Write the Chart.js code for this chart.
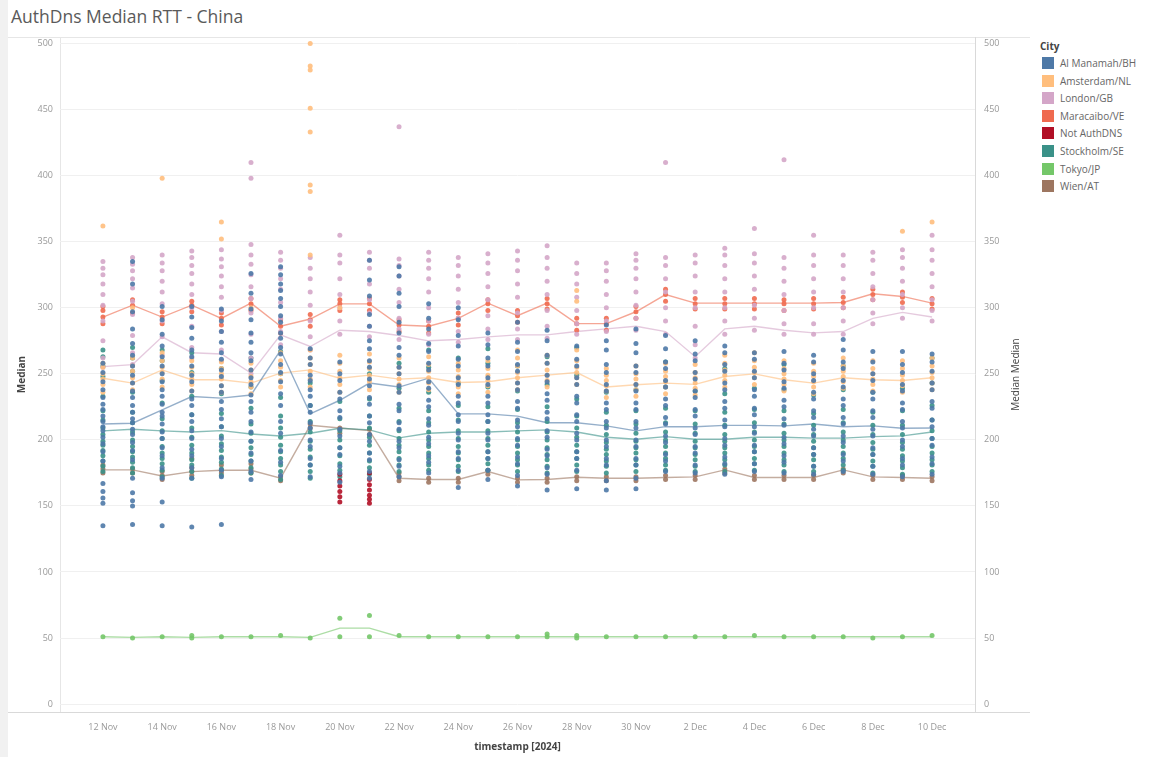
<!DOCTYPE html>
<html>
<head>
<meta charset="utf-8">
<title>AuthDns Median RTT - China</title>
<script src="https://cdn.jsdelivr.net/npm/chart.js@4.4.1/dist/chart.umd.min.js"></script>
<style>
  body { margin: 0; background: #fff; font-family: "Open Sans", Lato, sans-serif; }
  #franja { position: absolute; left: 0; top: 0; width: 8px; height: 757px; background: #f1f1f1; }
  #titulo { position: absolute; left: 11px; top: 4px; font-size: 17.5px; color: #5a5a5a; white-space: nowrap; }
  #grafico { position: absolute; left: 0; top: 0; }
  #leyenda { position: absolute; left: 1040px; top: 38px; font-size: 10px; color: #666; }
  #leyenda .cab { font-weight: bold; color: #444; height: 17px; line-height: 17px; }
  #leyenda .item { height: 17.6px; line-height: 17.6px; white-space: nowrap; }
  #leyenda .caja { display: inline-block; width: 12px; height: 12px; vertical-align: -2px; margin: 0 6px 0 2px; }
</style>
</head>
<body>
<div id="franja"></div>
<div id="titulo">AuthDns Median RTT - China</div>
<canvas id="grafico" width="1030" height="757"></canvas>
<div id="leyenda"></div>
<script>
// Dias del eje X (indice 0 = 12 Nov)
const dias = ['12 Nov','13 Nov','14 Nov','15 Nov','16 Nov','17 Nov','18 Nov','19 Nov','20 Nov','21 Nov',
  '22 Nov','23 Nov','24 Nov','25 Nov','26 Nov','27 Nov','28 Nov','29 Nov','30 Nov','1 Dec',
  '2 Dec','3 Dec','4 Dec','5 Dec','6 Dec','7 Dec','8 Dec','9 Dec','10 Dec'];
const tickPos = [0, 2, 4, 6, 8, 10, 12, 14, 16, 18, 20, 22, 24, 26, 28];
const tickLabels = ['12 Nov','14 Nov','16 Nov','18 Nov','20 Nov','22 Nov','24 Nov','26 Nov','28 Nov','30 Nov',
  '2 Dec','4 Dec','6 Dec','8 Dec','10 Dec'];
const yTicks = [0, 50, 100, 150, 200, 250, 300, 350, 400, 450, 500];

const ciudades = ['Al Manamah/BH','Amsterdam/NL','London/GB','Maracaibo/VE','Not AuthDNS','Stockholm/SE','Tokyo/JP','Wien/AT'];

// Puntos (mediana por medicion) por ciudad y por dia
const manamahPts = [
  [135,152,156,161,167,184,191,197,202,207,210,214,218,223,227,232,238,244,251,258],
  [136,150,154,160,171,185,192,198,204,208,213,216,221,226,232,237,243,249,256,264,273,284,297,318,335],
  [135,153,171,179,188,194,201,206,212,218,221,227,233,238,244,250,256,263,271,280,291,301],
  [134,171,179,188,193,201,207,214,219,226,231,237,244,249,256,263,268,277,285,293,301],
  [136,172,177,186,195,201,210,216,223,229,236,241,248,253,261,266,274,282,290,299],
  [170,176,184,190,199,206,214,221,229,234,242,247,253,260,266,274,281,291,299,311,326],
  [173,183,192,205,214,226,235,244,251,257,265,270,277,281,289,294,301,307,313,318,325,331],
  [172,181,186,195,200,209,213,221,226,233,238,245,249,257,262,269],
  [168,175,180,189,194,203,208,217,222,231,236,245,250,259],
  [171,176,185,190,199,204,213,218,227,232,241,246,255,260,269,275,286,295,309,321,336],
  [172,180,185,194,199,208,213,222,227,236,241,250,255,264,270,281,289,301,311,324,331],
  [175,183,188,197,202,211,216,225,230,239,244,253,258,267,273,284,292,303],
  [164,177,186,191,200,205,214,219,228,233,242,247,256,261,271,279,291,300],
  [170,177,186,191,200,205,214,219,228,233,242,247,256,262,272,281],
  [165,173,182,187,196,201,210,215,224,229,238,243,252,257,267,274,289],
  [162,174,179,188,193,202,207,216,221,230,235,244,249,258,264,275,283],
  [163,177,186,191,200,205,214,219,228,233,242,247,256,261,271],
  [162,169,181,186,195,200,209,214,223,228,237,242,251,257,268,275,287],
  [163,171,181,186,195,200,209,214,223,228,237,242,251,256,266,273,284],
  [176,184,189,198,203,212,217,226,231,240,245,254,259,269,279],
  [175,181,190,195,204,209,218,223,232,237,246,251,260,265,275],
  [174,182,187,196,201,210,215,224,229,238,243,252,257,266,271],
  [176,182,191,196,205,210,219,224,233,238,247,252,261,266],
  [175,183,188,197,202,211,216,225,230,239,244,253,258,267],
  [174,180,189,194,203,208,217,222,231,236,245,250,259,264],
  [176,184,189,198,203,212,217,226,231,240,245,254,259,268,276],
  [174,180,189,194,203,208,217,222,231,236,245,250,259,267],
  [172,181,186,195,200,209,214,223,228,237,242,251,257,267],
  [174,182,187,196,201,210,215,224,229,238,243,252,259,265]
];
const amsterdamPts = [
  [236,242,246,250,255,258,362], [238,243,247,252,256,262,300], [240,246,251,255,260,266,398],
  [237,242,246,250,255,260], [236,241,246,250,254,259,352,365], [235,240,244,248,253,258,300],
  [240,245,250,255,260,266], [240,246,252,257,262,268,340,388,393,433,451,480,483,500],
  [236,242,247,252,258,264,300], [238,244,249,254,259,265], [236,242,246,250,255,262],
  [238,243,247,252,257,263], [235,240,244,248,253,258], [236,241,245,249,254,260],
  [238,243,247,251,256,262,268], [240,245,249,253,258,264], [242,247,251,255,260,268,305,313],
  [232,237,241,245,249,254], [233,238,242,246,250,256], [235,240,244,248,252,258],
  [234,239,243,247,251,257], [240,245,249,253,258,264], [242,247,251,255,260,266],
  [237,242,246,250,254,260], [235,240,244,248,252,258], [239,244,248,252,256,262],
  [237,242,246,250,254,260], [236,241,245,249,254,260,358], [238,243,247,251,256,262,365]
];
const londonPts = [
  [255,262,275,290,302,310,318,325,330,335], [257,266,279,295,305,315,322,328,333,338],
  [264,278,290,303,312,320,328,334,340], [262,270,286,300,310,318,326,332,338,343],
  [260,268,282,298,308,316,324,331,337,344], [250,262,280,296,307,316,325,333,340,348,398,410],
  [272,282,292,304,314,322,330,336,342], [268,278,290,302,312,322,330,338],
  [280,290,300,310,322,334,340,355], [278,286,296,306,318,330,336,342],
  [276,284,292,304,314,324,332,337,437], [272,280,290,300,312,322,330,336,342],
  [274,282,292,304,314,324,332,338], [276,284,294,306,316,326,334,341],
  [276,284,296,308,318,328,336,343], [277,286,298,310,320,330,338,347],
  [280,288,298,308,318,326,334], [282,290,300,310,320,328,334],
  [283,292,302,312,322,330,336,341], [280,290,300,312,322,332,338,410],
  [262,272,286,300,312,324,334,340], [280,290,300,312,322,332,340,345],
  [283,292,302,314,324,334,341,360], [280,288,298,310,320,330,338,412],
  [280,288,300,312,322,332,340,355], [280,290,300,312,322,332,340],
  [288,296,306,316,326,336,342], [292,300,310,320,330,338,344],
  [290,298,306,316,326,336,344,355]
];
const maracaiboPts = [
  [288,293,298,301], [296,302,306], [288,293,297], [297,302,305], [287,292,296], [298,303,307],
  [281,286,291], [286,291,295], [298,303,306], [298,303,307], [282,287,291], [281,286,290],
  [287,292,296], [298,303,306], [289,294,298], [299,303,307], [283,288,292], [283,288,292],
  [292,297,301], [305,310,314], [299,303,307], [299,303,307], [299,303,307], [298,303,306],
  [299,303,307], [300,304,308], [306,310,314], [304,308,312], [299,303,307]
];
const notAuthPts = [
  [], [], [], [], [], [], [], [], [153,157,161,165,169,174], [152,155,158,162,166,170,175],
  [], [], [], [], [], [], [], [], [], [], [], [], [], [], [], [], [], [], []
];
const stockholmPts = [
  [176,180,184,188,192,196,199,204,209,215,222,233,248,256,263,268],
  [175,179,183,187,191,195,200,206,213,221,236,252,262,270],
  [172,177,182,186,190,195,201,207,216,228,245,260,268],
  [171,176,181,185,190,196,202,209,219,233,251,266],
  [173,178,183,187,192,197,203,210,220,235,254],
  [175,179,184,189,194,199,205,212,224,240,262],
  [170,176,181,186,191,196,202,209,218,232,250,267],
  [171,176,181,187,193,199,206,214,226,243],
  [172,177,182,188,194,200,207,216,229],
  [174,179,184,190,196,202,209,218,231,250],
  [176,181,186,191,196,201,207,214,224,239,258],
  [177,181,186,190,195,200,206,213,222,236,255,268],
  [176,180,185,190,195,201,207,215,226,243,262],
  [177,182,186,191,196,201,207,214,225,240,258,269],
  [176,181,185,190,195,200,206,213,223,237,256],
  [175,180,185,189,194,200,206,214,225,242,263],
  [176,181,186,191,196,202,209,218,231,249,270],
  [175,180,184,189,193,198,204,211,221,236],
  [176,181,185,190,194,199,205,212,222,238],
  [177,181,186,190,195,200,206,213,224,240,259],
  [176,180,185,189,194,199,205,212,222,237],
  [176,181,185,190,194,199,204,211,221,235,254],
  [177,182,186,191,195,200,206,213,223,239],
  [176,181,185,190,195,200,205,212,222,238,257],
  [176,180,185,189,194,199,204,211,220,234],
  [177,181,186,190,195,200,206,213,223,238,256],
  [175,180,184,189,193,198,204,211,221,236],
  [174,179,184,188,193,198,204,211,222,239],
  [176,181,185,190,195,201,207,215,226,243,262]
];
const tokyoPts = [
  [51], [50], [51], [50,52], [51], [51], [52], [50], [51,65], [51,67], [52], [51], [51], [51], [51],
  [51,53], [50,52], [51], [51], [51], [51], [51], [52], [51], [51], [51], [50], [51], [52]
];
const wienPts = [
  [175,178,181], [175,178], [170,173,176], [173,176,179,186], [175,177,181], [175,178,182],
  [169,172], [209,212], [205,209], [204,208], [169,172,175], [168,171], [168,171], [174,177],
  [168,171], [168,171], [169,172], [169,172], [169,172], [170,173], [170,173], [175,178],
  [170,173], [170,173], [170,173], [175,178], [170,173], [170,173], [169,172]
];

// Mediana de medianas por ciudad (eje derecho)
const manamahMed = [212,212.6,222.7,232.8,231.6,234,268,219.7,230,243,240,246.7,219.7,219.7,218,213,213,210.6,206.8,210,210,211,211,210.6,212,210,210.6,208.8,209];
const amsterdamMed = [246.7,243,253,245.5,245.5,243,250.5,253,246.7,249,246,247,243.5,244,247,249,251,240,241.7,243,242,248,250,245.5,243,247,245.5,245,247];
const londonMed = [255.5,257,278,266,265,250.5,279.5,270.7,283,282,279,275,276,278,279.5,279.5,282,284,286,282,263,284,286,283,281,282,292,296.5,293];
const maracaiboMed = [293,302,293,302,292,303.5,286,291.5,303,303,287,286,292,303.5,294,303.5,288,288,297,310,303.5,303.5,303.5,303.5,303.5,304,310.6,308.6,303.5];
const stockholmMed = [206.8,208,206.8,206,207,204.5,203,205,208.8,207.6,201.5,205,206,206,206.8,207.6,206,202,200.5,202.5,200.5,200.5,202,202,201.3,201.3,202.5,203,206];
const tokyoMed = [51,50.5,51,50.5,51,51,51,50.5,57.5,57.5,51,51,51,51,51,51,51,51,51,51,51,51,51,51,51,51,51,51,51];
const wienMed = [177.3,177.3,172.7,176,177,177,171,211,209,207,171,170,170,176,169.7,170,171.7,171,171,171.5,172,177.3,171.5,171.5,171.5,177.3,172,171.5,171];

const colores = ['#4e79a7','#ffbe7d','#d4a6c8','#ef6a4f','#b10f26','#3a9188','#74c769','#9d7660'];

function aPuntos(lista) {
  const salida = [];
  lista.forEach(function (valores, i) {
    valores.forEach(function (v) { salida.push({ x: i, y: v }); });
  });
  return salida;
}
function aLinea(lista) {
  return lista.map(function (v, i) { return { x: i, y: v }; });
}
function alfa(hex, a) {
  const n = parseInt(hex.slice(1), 16);
  return 'rgba(' + (n >> 16) + ',' + ((n >> 8) & 255) + ',' + (n & 255) + ',' + a + ')';
}

const puntos = [manamahPts, amsterdamPts, londonPts, maracaiboPts, notAuthPts, stockholmPts, tokyoPts, wienPts];
const medianas = [manamahMed, amsterdamMed, londonMed, maracaiboMed, null, stockholmMed, tokyoMed, wienMed];

const datasets = [];
// lineas de mediana (debajo de los puntos)
medianas.forEach(function (m, k) {
  if (!m) return;
  datasets.push({
    type: 'line', label: ciudades[k] + ' (mediana)', data: aLinea(m), yAxisID: 'y2',
    borderColor: alfa(colores[k], 0.6), borderWidth: 1.4, pointRadius: 0, tension: 0, order: 2
  });
});
puntos.forEach(function (p, k) {
  datasets.push({
    type: 'scatter', label: ciudades[k], data: aPuntos(p), yAxisID: 'y',
    backgroundColor: alfa(colores[k], 0.9), borderWidth: 0, pointRadius: 2.5, order: 1
  });
});

// Bordes del panel y titulo del eje derecho
const marcoPlugin = {
  id: 'marco',
  beforeDraw(chart) {
    const ctx = chart.ctx, a = chart.chartArea;
    ctx.save();
    ctx.strokeStyle = '#e6e6e6';
    ctx.lineWidth = 1;
    ctx.beginPath();
    ctx.moveTo(8, a.top + 0.5); ctx.lineTo(1030, a.top + 0.5);
    ctx.moveTo(a.left + 0.5, a.top); ctx.lineTo(a.left + 0.5, a.bottom);
    ctx.stroke();
    ctx.strokeStyle = '#d9d9d9';
    ctx.beginPath();
    ctx.moveTo(8, a.bottom + 0.5); ctx.lineTo(1030, a.bottom + 0.5);
    ctx.moveTo(a.right + 0.5, a.top); ctx.lineTo(a.right + 0.5, a.bottom);
    ctx.stroke();
    ctx.restore();
  },
  afterDraw(chart) {
    const ctx = chart.ctx, a = chart.chartArea;
    ctx.save();
    ctx.translate(1016, (a.top + a.bottom) / 2);
    ctx.rotate(-Math.PI / 2);
    ctx.fillStyle = '#444';
    ctx.font = '10px "Open Sans", Lato, sans-serif';
    ctx.textAlign = 'center';
    ctx.textBaseline = 'middle';
    ctx.fillText('Median Median', 0, 0);
    ctx.restore();
  }
};

const fuenteTick = { family: '"Open Sans", Lato, sans-serif', size: 9 };

new Chart(document.getElementById('grafico').getContext('2d'), {
  data: { datasets: datasets },
  options: {
    responsive: false,
    animation: false,
    layout: { padding: { left: 8, top: 37, right: 0, bottom: 0 } },
    plugins: { legend: { display: false }, tooltip: { enabled: false } },
    scales: {
      x: {
        type: 'linear', min: -1.45, max: 29.45,
        afterBuildTicks: function (s) { s.ticks = tickPos.map(function (v) { return { value: v }; }); },
        afterFit: function (s) { s.height = 45; },
        ticks: {
          color: '#999', font: fuenteTick, padding: 10, maxRotation: 0, autoSkip: false,
          callback: function (v) { return tickLabels[tickPos.indexOf(v)]; }
        },
        grid: { display: false, drawTicks: false },
        border: { display: false },
        title: { display: true, text: 'timestamp [2024]', color: '#444',
          font: { family: '"Open Sans", Lato, sans-serif', size: 10, weight: 'bold' }, padding: { top: 0, bottom: 4 } }
      },
      y: {
        position: 'left', min: -6, max: 505,
        afterBuildTicks: function (s) { s.ticks = yTicks.map(function (v) { return { value: v }; }); },
        afterFit: function (s) { s.width = 52; },
        ticks: { color: '#999', font: fuenteTick, padding: 7 },
        grid: { color: '#f0f0f0', drawTicks: false },
        border: { display: false },
        title: { display: true, text: 'Median', color: '#444',
          font: { family: '"Open Sans", Lato, sans-serif', size: 10, weight: 'bold' }, padding: { top: 8, bottom: 0 } }
      },
      y2: {
        position: 'right', min: -6, max: 505,
        afterBuildTicks: function (s) { s.ticks = yTicks.map(function (v) { return { value: v }; }); },
        afterFit: function (s) { s.width = 55; },
        ticks: { color: '#999', font: fuenteTick, padding: 9 },
        grid: { display: false, drawTicks: false },
        border: { display: false }
      }
    }
  },
  plugins: [marcoPlugin]
});

// Leyenda en HTML
const leyenda = document.getElementById('leyenda');
let html = '<div class="cab">City</div>';
ciudades.forEach(function (c, k) {
  html += '<div class="item"><span class="caja" style="background:' + colores[k] + '"></span>' + c + '</div>';
});
leyenda.innerHTML = html;
</script>
</body>
</html>
